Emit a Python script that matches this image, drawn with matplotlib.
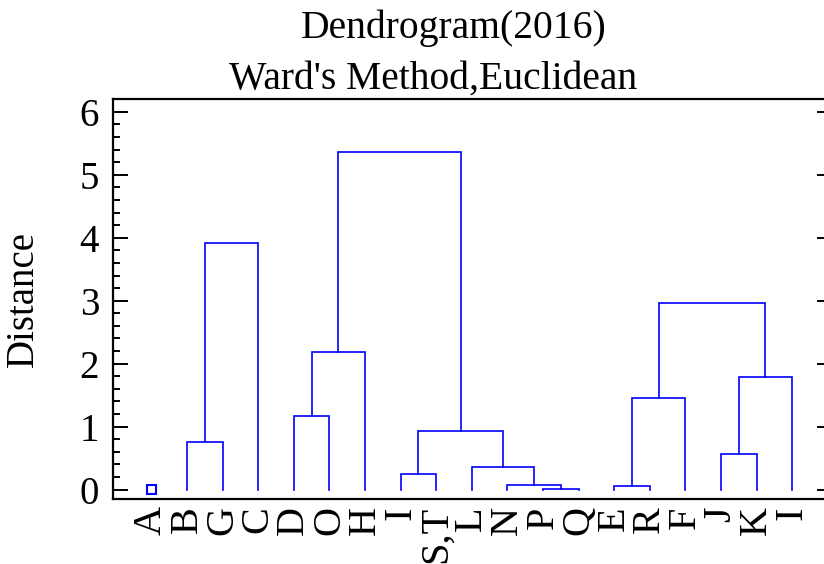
import matplotlib
matplotlib.use('Agg')
import matplotlib.pyplot as plt
from matplotlib.patches import Rectangle
from matplotlib.ticker import MultipleLocator

plt.rcParams['font.family'] = ['Liberation Serif', 'DejaVu Serif']

# leaf labels, left to right
labels = ['A', 'B', 'G', 'C', 'D', 'O', 'H', 'I', 'S,T', 'L',
          'N', 'P', 'Q', 'E', 'R', 'F', 'J', 'K', 'I']

# merges: (left member, right member, distance)
# members are leaf indices or 'c<k>' = k-th merge below
merges = [
    (1, 2, 0.75),         # c0  B+G
    ('c0', 3, 3.92),      # c1
    (4, 5, 1.17),         # c2  D+O
    ('c2', 6, 2.19),      # c3
    (7, 8, 0.24),         # c4  I + S,T
    (11, 12, 0.01),       # c5  P+Q
    (10, 'c5', 0.08),     # c6
    (9, 'c6', 0.36),      # c7
    ('c4', 'c7', 0.93),   # c8
    ('c3', 'c8', 5.36),   # c9
    (13, 14, 0.05),       # c10 E+R
    ('c10', 15, 1.45),    # c11
    (16, 17, 0.56),       # c12
    ('c12', 18, 1.79),    # c13
    ('c11', 'c13', 2.96), # c14
]

# leaf A drawn as a tiny box
a_low, a_high = -0.07, 0.07

fig = plt.figure(figsize=(8.24, 5.64), dpi=100)
ax = fig.add_axes([113/824, 64.7/564, 719/824, 400/564])

blue = '#0000ff'
pos = {}
for k, (l, r, h) in enumerate(merges):
    xs, ys = [], []
    for m in (l, r):
        if isinstance(m, str):
            xs.append(pos[m][0]); ys.append(pos[m][1])
        else:
            xs.append(m); ys.append(0.0)
    ax.plot([xs[0], xs[0], xs[1], xs[1]], [ys[0], h, h, ys[1]],
            color=blue, lw=1.2, solid_joinstyle='miter')
    pos['c%d' % k] = ((xs[0] + xs[1]) / 2, h)

ax.add_patch(Rectangle((0 - 0.13, a_low), 0.26, a_high - a_low,
                       fill=False, edgecolor=blue, lw=1.5))

ax.set_xlim(-1.08, 19.12)
ax.set_ylim(-0.155, 6.2)
ax.set_xticks(range(len(labels)))
ax.set_xticklabels(labels, rotation=90, fontsize=29)
ax.tick_params(axis='x', length=0, pad=5)

ax.yaxis.set_major_locator(MultipleLocator(1))
ax.yaxis.set_minor_locator(MultipleLocator(0.2))
ax.tick_params(axis='y', which='both', direction='in', left=True, right=True,
               labelsize=28, width=1.4, pad=10)
ax.tick_params(axis='y', which='major', length=11)
ax.tick_params(axis='y', which='minor', length=5)
ax.set_ylabel('Distance', fontsize=28)
ax.yaxis.set_label_coords(-0.099, 0.5)

for s in ax.spines.values():
    s.set_linewidth(1.6)

fig.text(454/824, 1 - 38/564, 'Dendrogram(2016)', ha='center', va='baseline', fontsize=28.5)
fig.text(433/824, 1 - 89/564, "Ward's Method,Euclidean", ha='center', va='baseline', fontsize=28.5)

fig.savefig('out.png', dpi=100)
